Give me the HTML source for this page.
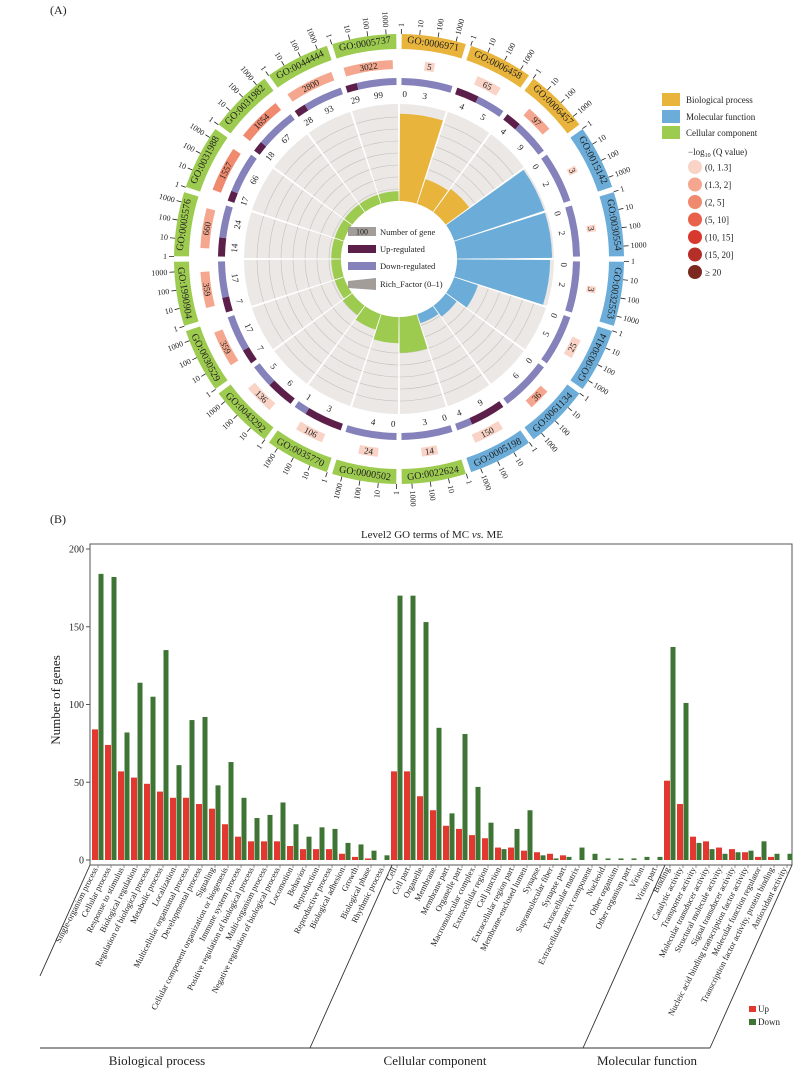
<!DOCTYPE html>
<html><head><meta charset="utf-8">
<style>
html,body{margin:0;padding:0;background:#fff;}
svg{display:block;font-family:"Liberation Serif",serif;}
</style></head>
<body>
<svg id="fig" width="793" height="1076" viewBox="0 0 793 1076" xmlns="http://www.w3.org/2000/svg">
<text x="50" y="14" font-size="12" fill="#222">(A)</text>
<text x="50" y="523" font-size="12" fill="#222">(B)</text>
<g id="circ"></g>
<g id="bars"></g>
</svg>
<script>
// ---------- Circular plot data ----------
const goIds = ["GO:0006971","GO:0006458","GO:0006457","GO:0015142","GO:0030554","GO:0032553","GO:0030414","GO:0061134","GO:0005198","GO:0022624","GO:0000502","GO:0035770","GO:0043292","GO:0030529","GO:1990904","GO:0005576","GO:0031988","GO:0031982","GO:0044444","GO:0005737"];
const goCategory = ["BP","BP","BP","MF","MF","MF","MF","MF","MF","CC","CC","CC","CC","CC","CC","CC","CC","CC","CC","CC"];
const goCount = [5,65,97,3,3,3,25,36,150,14,24,106,136,359,359,660,1557,1654,2800,3022];
const goQClass = [0,0,1,0,0,0,0,1,0,0,0,0,0,1,1,1,2,2,1,1];
const goUp = [0,4,4,0,0,0,0,0,9,0,0,3,6,7,7,14,17,18,28,29];
const goDown = [3,5,9,2,2,2,5,6,4,3,4,1,5,17,17,24,66,67,93,99];
const goRich = [0.9,0.27,0.3,0.98,0.98,0.96,0.26,0.14,0.1,0.37,0.27,0.17,0.12,0.1,0.1,0.1,0.1,0.1,0.1,0.1];
const qLabels = ["(0, 1.3]","(1.3, 2]","(2, 5]","(5, 10]","(10, 15]","(15, 20]","\u2265 20"];
const scaleTicks = ["1","10","100","1000"];

const NS="http://www.w3.org/2000/svg";
function mk(tag,attrs,parent,txt){const e=document.createElementNS(NS,tag);for(const k in attrs)e.setAttribute(k,attrs[k]);if(txt!==undefined)e.textContent=txt;parent.appendChild(e);return e;}

const cx=399, cy=259;
const catColor={BP:"#e8b43c",MF:"#6badd8",CC:"#9dcb4f"};
const qColors=["#f9d3c6","#f4a78e","#ef8a6f","#e8614b","#d8392f","#b52e27","#7c2820"];
function pt(r,a){const t=a*Math.PI/180;return [cx+r*Math.sin(t),cy-r*Math.cos(t)];}
function annulus(r0,r1,a0,a1){
  const p1=pt(r1,a0),p2=pt(r1,a1),p3=pt(r0,a1),p4=pt(r0,a0);const lg=(a1-a0)>180?1:0;
  return `M${p1[0]},${p1[1]} A${r1},${r1} 0 ${lg} 1 ${p2[0]},${p2[1]} L${p3[0]},${p3[1]} A${r0},${r0} 0 ${lg} 0 ${p4[0]},${p4[1]}Z`;
}
function tangRot(a){return (a>100&&a<270)?a-180:a;}
const circ=document.getElementById('circ');
const N=goIds.length, step=360/N;
const R0=58,RG=155;

for(let i=0;i<N;i++){
  const a0=i*step,a1=(i+1)*step,am=(a0+a1)/2;
  const g=mk('g',{},circ);
  
  
  const bg=mk('path',{d:annulus(R0,RG,a0+0.4,a1-0.4),fill:"#ebe8e5"},g);
  
  
  for(let k=1;k<=7;k++){
    const r=R0+k*12;const p=pt(r,a0+0.4),q=pt(r,a1-0.4);
    mk('path',{d:`M${p[0]},${p[1]} A${r},${r} 0 0 1 ${q[0]},${q[1]}`,fill:"none",stroke:"#c4c0bc","stroke-width":0.6},g);
  }
  const rr=R0+goRich[i]*(RG-R0);
  const rb=mk('path',{d:annulus(R0,rr,a0+0.4,a1-0.4),fill:catColor[goCategory[i]]},g);
  
  
  const tot=goUp[i]+goDown[i];const s0=a0+0.8,s1=a1-0.8;const split=s0+(s1-s0)*goUp[i]/tot;
  if(goUp[i]>0){const u=mk('path',{d:annulus(174,181,s0,split),fill:"#5b1f4a"},g);
    
    }
  const d=mk('path',{d:annulus(174,181,split,s1),fill:"#8481bb"},g);
  
  
  const upA = goUp[i]>0 ? Math.max((s0+split)/2, a0+2) : a0+2;
  let dnA = Math.max((split+s1)/2, upA+4);
  dnA = Math.min(dnA, a1-2.5);
  const lbls=[[goUp[i],upA],[goDown[i],dnA]];
  lbls.forEach(([v,a])=>{const p=pt(165,a);
    const t=mk('text',{x:p[0],y:p[1],"font-size":9,fill:"#222","text-anchor":"middle","dominant-baseline":"central",transform:`rotate(${tangRot(a)} ${p[0]} ${p[1]})`},g,String(v));
    
    });
  const frac=Math.log10(goCount[i])/4;const half=(step-1.5)*frac/2;
  const cb=mk('path',{d:annulus(190,199,am-half,am+half),fill:qColors[goQClass[i]]},g);
  
  
  const pc=pt(194.5,am);
  const ct=mk('text',{x:pc[0],y:pc[1],"font-size":9,fill:"#222","text-anchor":"middle","dominant-baseline":"central",transform:`rotate(${tangRot(am)} ${pc[0]} ${pc[1]})`},g,String(goCount[i]));
  
  
  const ob=mk('path',{d:annulus(210,225,a0+0.7,a1-0.7),fill:catColor[goCategory[i]]},g);
  
  
  const po=pt(217.5,am);
  const gt=mk('text',{x:po[0],y:po[1],"font-size":10,fill:"#222","text-anchor":"middle","dominant-baseline":"central",transform:`rotate(${tangRot(am)} ${po[0]} ${po[1]})`},g,goIds[i]);
  
  
  scaleTicks.forEach((s,k)=>{const a=a0+0.6+k*4.7;const p1=pt(225,a),p2=pt(230,a),p3=pt(232,a);
    mk('line',{x1:p1[0],y1:p1[1],x2:p2[0],y2:p2[1],stroke:"#222","stroke-width":0.8},g);
    const left=a>180;const rot=left?a+90:a-90;
    const tt=mk('text',{x:p3[0],y:p3[1],"font-size":8,fill:"#222","text-anchor":left?"end":"start","dominant-baseline":"central",transform:`rotate(${rot} ${p3[0]} ${p3[1]})`},g,s);
    
    });
}
mk('circle',{cx:cx,cy:cy,r:R0,fill:"#fff"},circ);
const cl=mk('g',{},circ);


mk('rect',{x:348,y:227,width:28,height:9,fill:"#a39d9a"},cl);
mk('text',{x:362,y:234.5,"font-size":8,"text-anchor":"middle",fill:"#222"},cl,"100");
mk('text',{x:380,y:235,"font-size":8.5,fill:"#222"},cl,"Number of gene");
mk('rect',{x:348,y:245,width:28,height:8,fill:"#5b1f4a"},cl);
mk('text',{x:380,y:252,"font-size":8.5,fill:"#222"},cl,"Up-regulated");
mk('rect',{x:348,y:262,width:28,height:8,fill:"#8481bb"},cl);
mk('text',{x:380,y:269,"font-size":8.5,fill:"#222"},cl,"Down-regulated");
mk('path',{d:"M348,281 L376,278 L376,290 L348,288Z",fill:"#a39d9a"},cl);
mk('text',{x:380,y:287,"font-size":8.5,fill:"#222"},cl,"Rich_Factor (0\u20131)");
const rl=mk('g',{},circ);


[["Biological process","BP",93],["Molecular function","MF",110],["Cellular component","CC",126]].forEach(([t,c,y])=>{
  const r=mk('rect',{x:662,y:y,width:18,height:13,fill:catColor[c]},rl);
  
  
  mk('text',{x:686,y:y+10,"font-size":9,fill:"#222"},rl,t);});
const ql=mk('g',{},circ);


const qt=mk('text',{x:688,y:155,"font-size":9,fill:"#222"},ql,"\u2212log");
mk('tspan',{"font-size":6,dy:2},qt,"10");
mk('tspan',{dy:-2},qt," (Q value)");
qLabels.forEach((l,k)=>{const y=167+k*17.5;
  const c=mk('circle',{cx:695,cy:y,r:7,fill:qColors[k]},ql);
  
  
  mk('text',{x:705,y:y+3.5,"font-size":9,fill:"#222"},ql,l);});

// ---------- Bar chart data ----------
const categories = ["Single-organism process","Cellular process","Response to stimulus","Biological regulation","Regulation of biological process","Metabolic process","Localization","Multicellular organismal process","Developmental process","Signaling","Cellular component organization or biogenesis","Immune system process","Positive regulation of biological process","Multi-organism process","Negative regulation of biological process","Locomotion","Behavior","Reproduction","Reproductive process","Biological adhesion","Growth","Biological phase","Rhythmic process",
"Cell","Cell part","Organelle","Membrane","Membrane part","Organelle part","Macromolecular complex","Extracellular region","Cell junction","Extracellular region part","Membrane-enclosed lumen","Synapse","Supramolecular fiber","Synapse part","Extracellular matrix","Extracellular matrix component","Nucleoid","Other organism","Other organism part","Virion","Virion part",
"Binding","Catalytic activity","Transporter activity","Molecular transducer activity","Structural molecule activity","Signal transducer activity","Nucleic acid binding transcription factor activity","Molecular function regulator","Transcription factor activity, protein binding","Antioxidant activity"];
const upValues = [84,74,57,53,49,44,40,40,36,33,23,15,12,12,12,9,7,7,7,4,2,1,0,
57,57,41,32,22,20,16,14,8,8,6,5,4,3,0,0,0,0,0,0,0,
51,36,15,12,8,7,5,2,2,0];
const downValues = [184,182,82,114,105,135,61,90,92,48,63,40,27,29,37,23,15,21,20,11,10,6,3,
170,170,153,85,30,81,47,24,7,20,32,3,1,2,8,4,1,1,1,2,2,
137,101,11,7,4,5,6,12,4,4];
const groupNames = ["Biological process","Cellular component","Molecular function"];
const groupSizes = [23,21,10];
const yTicks = [0,50,100,150,200];

const bars=document.getElementById('bars');
const X0=90, SLOT=13, Y0=860, YTOP=549, YMAX=200;
function yS(v){return Y0-(v/YMAX)*(Y0-YTOP);}
function xS(i){return X0+2+i*SLOT;}
mk('text',{x:432,y:538,"font-size":11,"text-anchor":"middle",fill:"#222"},bars).innerHTML='Level2 GO terms of MC <tspan font-style="italic">vs.</tspan> ME';
const frame=mk('path',{d:"M90,544 L792,544 L792,865 L90,865 Z",fill:"none",stroke:"#555","stroke-width":1},bars);


const yl=mk('text',{x:0,y:0,"font-size":13,"text-anchor":"middle",fill:"#222",transform:"translate(60,700) rotate(-90)"},bars,"Number of genes");


yTicks.forEach(t=>{const y=yS(t);
  mk('line',{x1:86,x2:90,y1:y,y2:y,stroke:"#555"},bars);
  const tl=mk('text',{x:84,y:y+3.5,"font-size":10,"text-anchor":"end",fill:"#222"},bars,String(t));
  
  });
categories.forEach((c,i)=>{
  const x=xS(i);
  if(upValues[i]>0){const r=mk('rect',{x:x,y:yS(upValues[i]),width:6,height:Y0-yS(upValues[i]),fill:"#e3382f"},bars);
    
    }
  if(downValues[i]>0){const r=mk('rect',{x:x+6.5,y:yS(downValues[i]),width:5,height:Y0-yS(downValues[i]),fill:"#3e7434"},bars);
    
    }
  const lx=x+6,ly=869;
  mk('line',{x1:lx,x2:lx,y1:865,y2:868,stroke:"#555","stroke-width":0.6},bars);
  const t=mk('text',{x:lx,y:ly,"font-size":8.5,"text-anchor":"end",fill:"#222",transform:`rotate(-63 ${lx} ${ly})`},bars,c);
  
  
});
let cum=0;const bnd=[X0];
groupSizes.forEach(s=>{cum+=s;bnd.push(X0+cum*SLOT+(cum<54?3:0));});
const DX=82;
bnd.forEach((bx,k)=>{
  let x2=bx-DX,y2=1048;
  if(k===0){x2=40;y2=865+(bx-40)*182/82;}
  const l=mk('line',{x1:bx,y1:865,x2:x2,y2:y2,stroke:"#333","stroke-width":0.9},bars);
  
  });
mk('line',{x1:40,x2:bnd[3]-DX,y1:1048,y2:1048,stroke:"#333","stroke-width":0.9},bars);
[[157,0],[435,1],[647,2]].forEach(([x,k])=>{
  const t=mk('text',{x:x,y:1065,"font-size":13,"text-anchor":"middle",fill:"#222"},bars,groupNames[k]);
  
  });
const lg=mk('g',{},bars);


mk('rect',{x:749,y:1006,width:7,height:6,fill:"#e3382f"},lg);
mk('text',{x:758,y:1012,"font-size":9,fill:"#222"},lg,"Up");
mk('rect',{x:749,y:1019,width:7,height:6,fill:"#3e7434"},lg);
mk('text',{x:758,y:1025,"font-size":9,fill:"#222"},lg,"Down");
</script>
</body></html>
